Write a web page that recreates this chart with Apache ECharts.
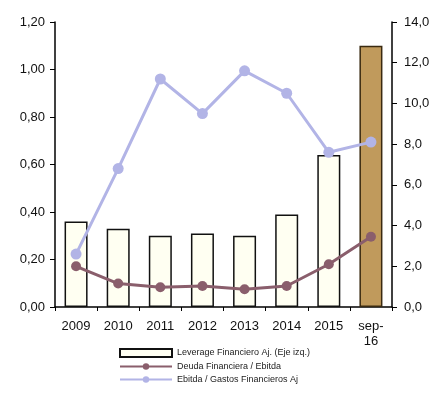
<!DOCTYPE html>
<html>
<head>
<meta charset="utf-8">
<script src="https://cdn.jsdelivr.net/npm/echarts@6/dist/echarts.min.js"></script>
<style>
  html, body { margin: 0; padding: 0; background: #fff; }
  #chart { width: 443px; height: 400px; }
</style>
</head>
<body>
<div id="chart"></div>
<script>
// datos
var categorias = ['2009', '2010', '2011', '2012', '2013', '2014', '2015', 'sep-\n16'];
var leverage = [0.36, 0.33, 0.30, 0.31, 0.30, 0.39, 0.64, 1.10];
var deudaEbitda = [2.0, 1.15, 0.97, 1.03, 0.87, 1.03, 2.1, 3.45];
var ebitdaGastos = [2.6, 6.8, 11.2, 9.5, 11.6, 10.5, 7.6, 8.1];

var nombres = ['Leverage Financiero Aj. (Eje izq.)', 'Deuda Financiera / Ebitda', 'Ebitda / Gastos Financieros Aj'];

var chart = echarts.init(document.getElementById('chart'));

var barras = leverage.map(function(v, i){
	if (i == leverage.length - 1) {
		return { value: v, itemStyle: { color: '#c09a5c', borderColor: '#3a2a10' } };
	}
	return v;
});

var ejeTxt = { color: '#111', fontFamily: 'Liberation Sans, Arial', fontSize: 13 };

chart.setOption({
	animation: false,
	backgroundColor: '#fff',
	grid: { left: 55, right: 51, top: 22, bottom: 93 },
	legend: {
		orient: 'vertical',
		left: 114, top: 343,
		itemWidth: 52, itemHeight: 8, itemGap: 4,
		textStyle: { fontSize: 9, color: '#222', fontFamily: 'Liberation Sans, Arial' },
		data: [{ name: nombres[0], icon: 'rect' }, nombres[1], nombres[2]]
	},
	xAxis: {
		type: 'category',
		data: categorias,
		axisLine: { lineStyle: { color: '#000', width: 1.5 } },
		axisTick: { show: true, lineStyle: { color: '#000' }, length: 4 },
		axisLabel: Object.assign({ margin: 12, lineHeight: 15 }, ejeTxt)
	},
	yAxis: [{
		type: 'value', min: 0, max: 1.2, interval: 0.2,
		splitLine: { show: false },
		axisLine: { show: true, lineStyle: { color: '#000', width: 1.5 } },
		axisTick: { show: true, lineStyle: { color: '#000' }, length: 5 },
		axisLabel: Object.assign({ margin: 10, formatter: function(v){ return v.toFixed(2).replace('.', ','); } }, ejeTxt)
	}, {
		type: 'value', min: 0, max: 14, interval: 2,
		splitLine: { show: false },
		axisLine: { show: true, lineStyle: { color: '#000', width: 1.5 } },
		axisTick: { show: true, lineStyle: { color: '#000' }, length: 5 },
		axisLabel: Object.assign({ margin: 12, formatter: function(v){ return v.toFixed(1).replace('.', ','); } }, ejeTxt)
	}],
	series: [{
		name: nombres[0],
		type: 'bar',
		yAxisIndex: 0,
		barWidth: 23,
		data: barras,
		itemStyle: { color: '#fffff2', borderColor: '#111', borderWidth: 1.5 }
	}, {
		name: nombres[1],
		type: 'line',
		yAxisIndex: 1,
		data: deudaEbitda,
		symbol: 'circle', symbolSize: 10,
		z: 4,
		lineStyle: { color: '#8a5e6c', width: 3 },
		itemStyle: { color: '#8a5e6c' }
	}, {
		name: nombres[2],
		type: 'line',
		yAxisIndex: 1,
		data: ebitdaGastos,
		symbol: 'circle', symbolSize: 11,
		z: 3,
		lineStyle: { color: '#b2b4e6', width: 3 },
		itemStyle: { color: '#b2b4e6' }
	}]
});
</script>
</body>
</html>
